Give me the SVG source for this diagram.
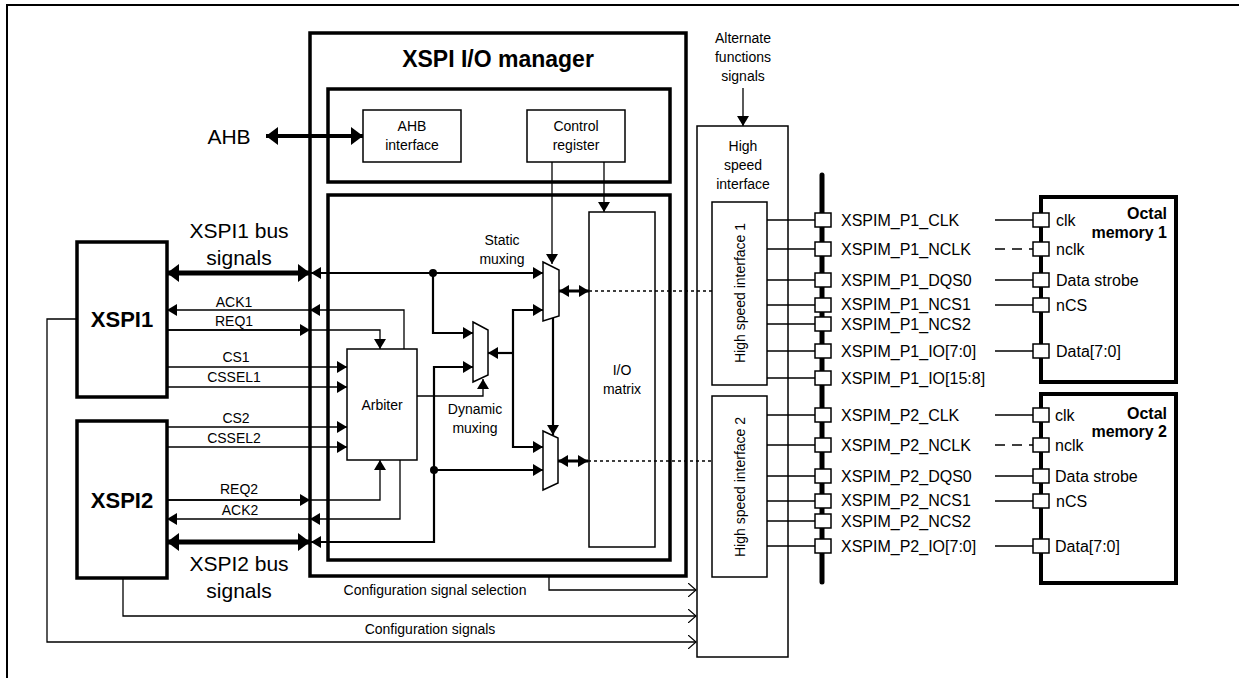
<svg xmlns="http://www.w3.org/2000/svg" width="1239" height="678" viewBox="0 0 1239 678">
<defs>
<marker id="a" markerUnits="userSpaceOnUse" markerWidth="10" markerHeight="12" refX="10" refY="6" orient="auto-start-reverse"><path d="M0,0 L10,6 L0,12 z" fill="#000"/></marker>
<marker id="b" markerUnits="userSpaceOnUse" markerWidth="12" markerHeight="18" refX="12" refY="9" orient="auto-start-reverse"><path d="M0,0 L12,9 L0,18 z" fill="#000"/></marker>
<marker id="o" markerUnits="userSpaceOnUse" markerWidth="9" markerHeight="14" refX="8" refY="7" orient="auto"><path d="M0,0 L8,7 L0,14" fill="none" stroke="#000" stroke-width="1.2"/></marker>
</defs>
<style>
text{font-family:"Liberation Sans",Arial,sans-serif;fill:#000}
.t{font-size:14px;text-anchor:middle}
.l{font-size:16px}
.big{font-size:21px;text-anchor:middle}
.bold{font-weight:bold}
.box{fill:#fff;stroke:#000;stroke-width:1.5}
.thk{fill:none;stroke:#000;stroke-width:3.5}
.w{fill:none;stroke:#000;stroke-width:2.2}
.n{fill:none;stroke:#000;stroke-width:1.3}
.pad{fill:#fff;stroke:#000;stroke-width:1.5}
</style>
<rect width="1239" height="678" fill="#fff"/>
<polyline points="7,678 7,5 1239,5" fill="none" stroke="#000" stroke-width="2"/>

<g id="manager">
<rect x="310" y="33" width="376" height="543" class="thk"/>
<text x="498" y="67" class="bold" font-size="23" text-anchor="middle">XSPI I/O manager</text>
<rect x="328" y="89" width="342" height="93" class="thk" stroke-width="3"/>
<rect x="328" y="195" width="342" height="365" class="thk" stroke-width="3"/>
</g>
<g id="ahbif"><rect x="363" y="110" width="98" height="52" class="box"/><text x="412" y="131" class="t">AHB</text><text x="412" y="150" class="t">interface</text></g>
<g id="ctrl"><rect x="527" y="110" width="98" height="52" class="box"/><text x="576" y="131" class="t">Control</text><text x="576" y="150" class="t">register</text></g>
<g id="iomatrix"><rect x="589" y="212" width="66" height="335" class="box"/><text x="622" y="375" class="t">I/O</text><text x="622" y="394" class="t">matrix</text></g>
<g id="arbiter"><rect x="347" y="349" width="70" height="111" class="box"/><text x="382" y="410" class="t">Arbiter</text></g>
<g id="xspi1"><rect x="77" y="242" width="90" height="155" class="thk" stroke-width="3" fill="#fff"/><text x="122" y="327" class="bold" font-size="22" text-anchor="middle">XSPI1</text></g>
<g id="xspi2"><rect x="77" y="421" width="90" height="157" class="thk" stroke-width="3" fill="#fff"/><text x="122" y="508" class="bold" font-size="22" text-anchor="middle">XSPI2</text></g>
<g id="muxes" fill="#fff" stroke="#000" stroke-width="1.5">
<polygon points="543,262 559,270 559,316 543,321"/>
<polygon points="473,322 488,330 488,375 473,382"/>
<polygon points="543,431 558,438 558,483 543,490"/>
</g>
<g id="hsi">
<rect x="697" y="126" width="91" height="531" class="box"/>
<text x="743" y="151" class="t">High</text><text x="743" y="170" class="t">speed</text><text x="743" y="189" class="t">interface</text>
<rect x="712" y="202" width="55" height="183" class="box"/>
<text transform="translate(745,293) rotate(-90)" class="t">High speed interface 1</text>
<rect x="712" y="396" width="55" height="181" class="box"/>
<text transform="translate(745,487) rotate(-90)" class="t">High speed interface 2</text>
</g>
<g id="mem1"><rect x="1041" y="197" width="135" height="185" fill="#fff" stroke="#000" stroke-width="4"/>
<text x="1167" y="219" class="l bold" text-anchor="end">Octal</text><text x="1167" y="238" class="l bold" text-anchor="end">memory 1</text></g>
<g id="mem2"><rect x="1041" y="394" width="135" height="189" fill="#fff" stroke="#000" stroke-width="4"/>
<text x="1167" y="419" class="l bold" text-anchor="end">Octal</text><text x="1167" y="437" class="l bold" text-anchor="end">memory 2</text></g>

<g id="connectors">
<line x1="266" y1="136" x2="363" y2="136" stroke="#000" stroke-width="4" marker-start="url(#b)" marker-end="url(#b)"/>
<line x1="552" y1="162" x2="552" y2="264" class="n" marker-end="url(#a)"/>
<line x1="604" y1="162" x2="604" y2="212" class="n" marker-end="url(#a)"/>
<line x1="553" y1="318" x2="553" y2="435" class="w" marker-end="url(#a)"/>
<line x1="167" y1="273" x2="310" y2="273" stroke="#000" stroke-width="5" marker-start="url(#b)" marker-end="url(#b)"/>
<line x1="311" y1="273" x2="543" y2="273" class="w" marker-start="url(#a)" marker-end="url(#a)"/>
<circle cx="433" cy="273" r="4"/>
<polyline points="433,273 433,333 473,333" class="w" marker-end="url(#a)"/>
<line x1="167" y1="542" x2="310" y2="542" stroke="#000" stroke-width="5" marker-start="url(#b)" marker-end="url(#b)"/>
<polyline points="311,542 434,542 434,367 473,367" class="w" marker-start="url(#a)" marker-end="url(#a)"/>
<circle cx="434" cy="470" r="4"/>
<line x1="434" y1="470" x2="543" y2="470" class="w" marker-end="url(#a)"/>
<line x1="513" y1="353" x2="488" y2="353" class="w" marker-end="url(#a)"/>
<polyline points="543,310 513,310 513,447 543,447" class="w" marker-start="url(#a)" marker-end="url(#a)"/>
<polyline points="417,396 483,396 483,379" class="n" marker-end="url(#a)"/>
<line x1="559" y1="291" x2="589" y2="291" stroke="#000" stroke-width="3" marker-start="url(#a)" marker-end="url(#a)"/>
<line x1="558" y1="461" x2="588" y2="461" stroke="#000" stroke-width="3" marker-start="url(#a)" marker-end="url(#a)"/>
<line x1="589" y1="291" x2="712" y2="291" class="n" stroke-dasharray="3,3"/>
<line x1="588" y1="461" x2="712" y2="461" class="n" stroke-dasharray="3,3"/>
<polyline points="404,349 404,310 167,310" class="n" marker-end="url(#a)"/>
<line x1="320" y1="310" x2="310" y2="310" class="n" marker-end="url(#a)"/>
<polyline points="167,330 380,330 380,349" class="n" marker-end="url(#a)"/>
<line x1="167" y1="330" x2="310" y2="330" class="n" marker-end="url(#a)"/>
<line x1="167" y1="367" x2="347" y2="367" class="n" marker-end="url(#a)"/>
<line x1="167" y1="387" x2="347" y2="387" class="n" marker-end="url(#a)"/>
<line x1="167" y1="427" x2="347" y2="427" class="n" marker-end="url(#a)"/>
<line x1="167" y1="447" x2="347" y2="447" class="n" marker-end="url(#a)"/>
<polyline points="167,500 380,500 380,460" class="n" marker-end="url(#a)"/>
<line x1="167" y1="500" x2="310" y2="500" class="n" marker-end="url(#a)"/>
<polyline points="400,460 400,519 167,519" class="n" marker-end="url(#a)"/>
<line x1="320" y1="519" x2="310" y2="519" class="n" marker-end="url(#a)"/>
<polyline points="549,576 549,590 696,590" class="n" marker-end="url(#o)"/>
<polyline points="123,578 123,616 696,616" class="n" marker-end="url(#o)"/>
<polyline points="77,319 47,319 47,642 696,642" class="n" marker-end="url(#o)"/>
<line x1="743" y1="88" x2="743" y2="126" class="n" marker-end="url(#a)"/>
<line x1="822" y1="175" x2="822" y2="582" stroke="#000" stroke-width="5" stroke-linecap="round"/>
<g class="n">
<line x1="767" y1="220" x2="815" y2="220"/><line x1="767" y1="249" x2="815" y2="249"/><line x1="767" y1="280" x2="815" y2="280"/><line x1="767" y1="305" x2="815" y2="305"/><line x1="767" y1="324" x2="815" y2="324"/><line x1="767" y1="351" x2="815" y2="351"/><line x1="767" y1="378" x2="815" y2="378"/>
<line x1="767" y1="415" x2="815" y2="415"/><line x1="767" y1="445" x2="815" y2="445"/><line x1="767" y1="476" x2="815" y2="476"/><line x1="767" y1="501" x2="815" y2="501"/><line x1="767" y1="521" x2="815" y2="521"/><line x1="767" y1="546" x2="815" y2="546"/>
<line x1="995" y1="220" x2="1033" y2="220"/><line x1="995" y1="249" x2="1033" y2="249" stroke-dasharray="10,7"/><line x1="995" y1="280" x2="1033" y2="280"/><line x1="995" y1="305" x2="1033" y2="305"/><line x1="995" y1="351" x2="1033" y2="351"/>
<line x1="995" y1="415" x2="1033" y2="415"/><line x1="995" y1="445" x2="1033" y2="445" stroke-dasharray="10,7"/><line x1="995" y1="476" x2="1033" y2="476"/><line x1="995" y1="501" x2="1033" y2="501"/><line x1="995" y1="546" x2="1033" y2="546"/>
</g>
<g class="pad">
<rect x="815" y="213" width="16" height="14"/><rect x="815" y="242" width="16" height="14"/><rect x="815" y="273" width="16" height="14"/><rect x="815" y="298" width="16" height="14"/><rect x="815" y="317" width="16" height="14"/><rect x="815" y="344" width="16" height="14"/><rect x="815" y="371" width="16" height="14"/>
<rect x="815" y="408" width="16" height="14"/><rect x="815" y="438" width="16" height="14"/><rect x="815" y="469" width="16" height="14"/><rect x="815" y="494" width="16" height="14"/><rect x="815" y="514" width="16" height="14"/><rect x="815" y="539" width="16" height="14"/>
<rect x="1033" y="213" width="16" height="14"/><rect x="1033" y="242" width="16" height="14"/><rect x="1033" y="273" width="16" height="14"/><rect x="1033" y="298" width="16" height="14"/><rect x="1033" y="344" width="16" height="14"/>
<rect x="1033" y="408" width="16" height="14"/><rect x="1033" y="438" width="16" height="14"/><rect x="1033" y="469" width="16" height="14"/><rect x="1033" y="494" width="16" height="14"/><rect x="1033" y="539" width="16" height="14"/>
</g>
</g>

<g id="labels">
<text x="229" y="144" class="big">AHB</text>
<text x="239" y="238" class="big">XSPI1 bus</text><text x="239" y="265" class="big">signals</text>
<text x="239" y="571" class="big">XSPI2 bus</text><text x="239" y="598" class="big">signals</text>
<text x="502" y="245" class="t">Static</text><text x="502" y="264" class="t">muxing</text>
<text x="475" y="414" class="t">Dynamic</text><text x="475" y="433" class="t">muxing</text>
<text x="234" y="307" class="t">ACK1</text><text x="234" y="326" class="t">REQ1</text>
<text x="236" y="362" class="t">CS1</text><text x="234" y="382" class="t">CSSEL1</text>
<text x="236" y="423" class="t">CS2</text><text x="234" y="443" class="t">CSSEL2</text>
<text x="239" y="494" class="t">REQ2</text><text x="240" y="515" class="t">ACK2</text>
<text x="435" y="595" class="t">Configuration signal selection</text>
<text x="430" y="634" class="t">Configuration signals</text>
<text x="743" y="43" class="t">Alternate</text><text x="743" y="62" class="t">functions</text><text x="743" y="81" class="t">signals</text>
<g class="l">
<text x="841" y="226">XSPIM_P1_CLK</text><text x="841" y="255">XSPIM_P1_NCLK</text><text x="841" y="286">XSPIM_P1_DQS0</text><text x="841" y="310">XSPIM_P1_NCS1</text><text x="841" y="330">XSPIM_P1_NCS2</text><text x="841" y="357">XSPIM_P1_IO[7:0]</text><text x="841" y="384">XSPIM_P1_IO[15:8]</text>
<text x="841" y="421">XSPIM_P2_CLK</text><text x="841" y="451">XSPIM_P2_NCLK</text><text x="841" y="482">XSPIM_P2_DQS0</text><text x="841" y="506">XSPIM_P2_NCS1</text><text x="841" y="527">XSPIM_P2_NCS2</text><text x="841" y="552">XSPIM_P2_IO[7:0]</text>
<text x="1056" y="226">clk</text><text x="1056" y="255">nclk</text><text x="1056" y="286">Data strobe</text><text x="1056" y="311">nCS</text><text x="1056" y="357">Data[7:0]</text>
<text x="1055" y="421">clk</text><text x="1055" y="451">nclk</text><text x="1055" y="482">Data strobe</text><text x="1056" y="507">nCS</text><text x="1055" y="552">Data[7:0]</text>
</g>
</g>
</svg>
